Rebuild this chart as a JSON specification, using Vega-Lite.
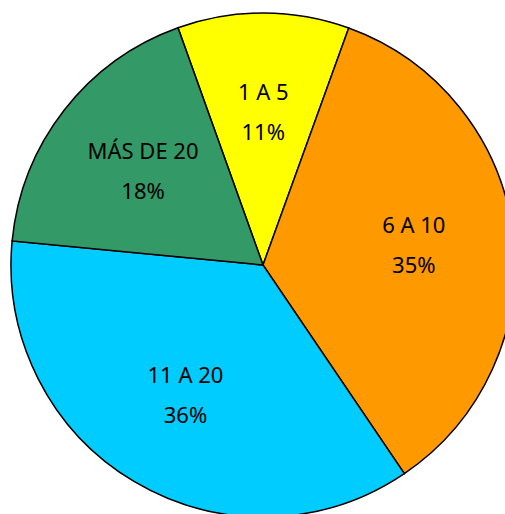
{
  "$schema": "https://vega.github.io/schema/vega-lite/v6.json",
  "width": 526,
  "height": 530,
  "autosize": {"type": "none"},
  "padding": 0,
  "background": "white",
  "data": {
    "values": [
      {"order": 1, "category": "1 A 5", "value": 11, "pct": "11%"},
      {"order": 2, "category": "6 A 10", "value": 35, "pct": "35%"},
      {"order": 3, "category": "11 A 20", "value": 36, "pct": "36%"},
      {"order": 4, "category": "MÁS DE 20", "value": 18, "pct": "18%"}
    ]
  },
  "encoding": {
    "theta": {"field": "value", "type": "quantitative", "stack": true, "scale": {"range": [-0.344, 5.939]}},
    "order": {"field": "order", "type": "ordinal"}
  },
  "layer": [
    {
      "mark": {"type": "arc", "outerRadius": 252, "stroke": "black", "strokeWidth": 1.5},
      "encoding": {
        "color": {
          "field": "category",
          "type": "nominal",
          "scale": {"domain": ["1 A 5", "6 A 10", "11 A 20", "MÁS DE 20"], "range": ["#FFFF00", "#FF9900", "#00CCFF", "#339966"]},
          "legend": null
        }
      }
    },
    {
      "mark": {"type": "text", "radius": 152, "dy": -20, "font": "Noto Sans", "fontSize": 22, "color": "black"},
      "encoding": {"text": {"field": "category"}}
    },
    {
      "mark": {"type": "text", "radius": 152, "dy": 20, "font": "Noto Sans", "fontSize": 22, "color": "black"},
      "encoding": {"text": {"field": "pct"}}
    }
  ]
}
